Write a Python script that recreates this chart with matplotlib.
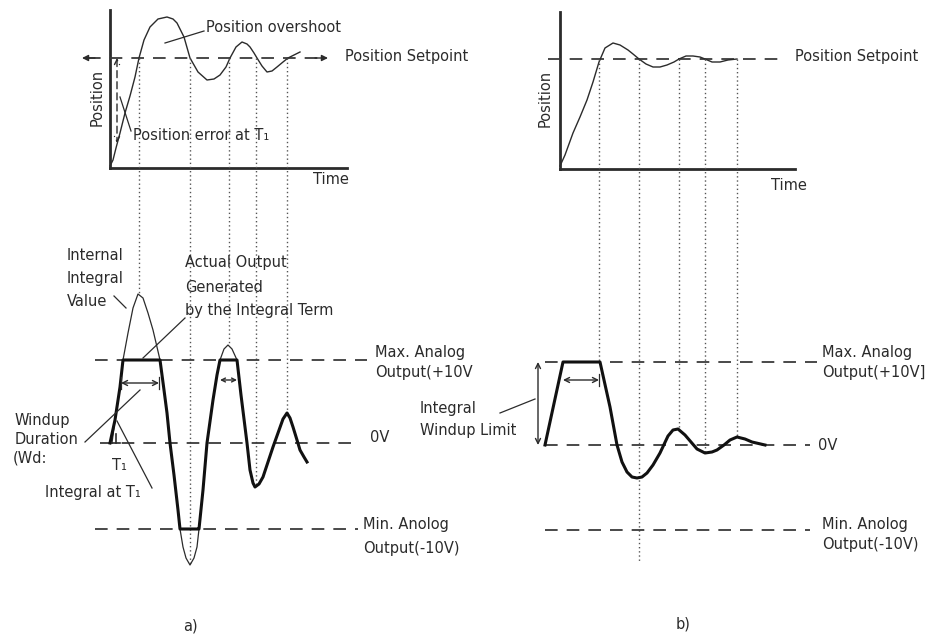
import numpy as np
import matplotlib.pyplot as plt

# all coordinates are pixel positions (y grows downwards)

# a) position response
pos_a_x = [110, 113, 116, 120, 125, 130, 135, 139, 144, 150, 158, 167, 173, 177, 184, 190, 198, 207,
           214, 220, 226, 230, 236, 242, 247, 250, 254, 257, 262, 267, 272, 277, 283, 288, 294, 300]
pos_a_y = [166, 160, 148, 133, 113, 96, 77, 58, 40, 27, 19, 17, 19, 23, 37, 58, 72, 80,
           79, 75, 67, 58, 47, 42, 44, 47, 53, 58, 66, 72, 71, 67, 62, 58, 55, 52]

# a) internal integral value
int_a_x = [112, 115, 120, 123, 128, 133, 138, 143, 148, 153, 157, 160, 164, 167, 170, 174, 178, 180,
           183, 186, 190, 194, 197, 199, 203, 207, 213, 217, 220, 224, 228, 232, 237, 241, 247, 250,
           253, 255, 259, 263, 268, 273, 278, 283, 287, 290, 293, 297, 300, 304, 307]
int_a_y = [443, 420, 387, 360, 333, 308, 294, 298, 313, 330, 347, 360, 390, 413, 443, 475, 510, 529,
           547, 558, 565, 558, 547, 529, 490, 443, 400, 375, 360, 349, 345, 349, 360, 395, 443, 470,
           483, 487, 484, 477, 462, 447, 433, 419, 413, 418, 427, 440, 450, 457, 462]

# b) position response
pos_b_x = [560, 565, 573, 580, 587, 593, 599, 605, 613, 620, 628, 633, 639, 646, 653, 660, 667,
           674, 679, 686, 693, 700, 705, 712, 720, 728, 737]
pos_b_y = [166, 155, 133, 117, 100, 82, 62, 48, 43, 45, 50, 54, 59, 64, 67, 67, 65,
           62, 59, 56, 56, 57, 59, 62, 62, 60, 59]

# b) integral output with windup limit
out_b_x = [545, 563, 600, 610, 617, 622, 627, 632, 637, 642, 647, 653, 660, 668, 673, 678, 685,
           691, 697, 705, 712, 717, 724, 730, 737, 745, 752, 765]
out_b_y = [445, 362, 362, 407, 445, 462, 472, 477, 478, 477, 473, 465, 453, 436, 430, 429, 435,
           442, 449, 453, 452, 450, 445, 440, 437, 439, 442, 445]

# levels
setpoint_a, setpoint_b = 58, 59
max_a, zero_a, min_a = 360, 443, 529
max_b, zero_b, min_b = 362, 445, 530

# dotted guide lines (x, lower end)
dot_a_x = [139, 190, 229, 256, 287]
dot_a_end = [294, 565, 345, 487, 413]
dot_b_x = [599, 639, 679, 705, 737]
dot_b_end = [362, 563, 429, 453, 437]

INK = "#2b2b2b"
DASH = dict(color="#3a3a3a", lw=1.3, dashes=(7, 5))
FS = 10.5

fig = plt.figure(figsize=(9.42, 6.35), dpi=100)
ax = fig.add_axes([0, 0, 1, 1])
ax.set_xlim(0, 942)
ax.set_ylim(635, 0)
ax.axis("off")


def txt(x, y, s, **kw):
    ax.text(x, y, s, fontsize=FS, color=INK, va="center", ha=kw.pop("ha", "left"), **kw)


def line(x0, y0, x1, y1, **kw):
    ax.plot([x0, x1], [y0, y1], color=kw.pop("color", INK), lw=kw.pop("lw", 0.9), **kw)


def arrow(x0, y0, x1, y1, style="<->", ls="-", scale=9):
    ax.annotate("", xy=(x1, y1), xytext=(x0, y0),
                arrowprops=dict(arrowstyle=style, color=INK, lw=1.0, linestyle=ls,
                                mutation_scale=scale, shrinkA=0, shrinkB=0))


# ---------------- panel a ----------------
line(110, 10, 110, 168, lw=2.0)
line(110, 168, 347, 168, lw=2.0)
txt(97, 97, "Position", rotation=90, ha="center")
txt(313, 179, "Time")
ax.plot([88, 322], [setpoint_a, setpoint_a], **DASH)
arrow(95, setpoint_a, 82, setpoint_a, style="-|>")
arrow(315, setpoint_a, 328, setpoint_a, style="-|>")
txt(345, 57, "Position Setpoint")
ax.plot(pos_a_x, pos_a_y, color=INK, lw=1.0)
arrow(117, 58, 117, 143, ls=(0, (5, 3)))
txt(133, 135, "Position error at T₁")
line(131, 131, 120, 97)
txt(206, 27, "Position overshoot")
line(204, 31, 165, 43)

for x, y_end in zip(dot_a_x, dot_a_end):
    ax.plot([x, x], [setpoint_a, y_end], color="#555555", lw=1.0, ls=(0, (1, 2)))

ax.plot([95, 367], [max_a, max_a], **DASH)
ax.plot([100, 358], [zero_a, zero_a], **DASH)
ax.plot([95, 358], [min_a, min_a], **DASH)

ax.plot(int_a_x, int_a_y, color=INK, lw=0.9)
out_a_y = np.clip(int_a_y, max_a, min_a)
ax.plot([110] + int_a_x[1:], [zero_a] + list(out_a_y[1:]), color="#111111", lw=2.2)

arrow(121, 383, 159, 383)
line(121, 377, 121, 389)
line(159, 377, 159, 389)
arrow(220, 380, 237, 380, scale=7)
line(116, 434, 116, 443, lw=1.2)
line(112, 443, 120, 443, lw=1.2)

txt(67, 255, "Internal")
txt(67, 278, "Integral")
txt(67, 302, "Value")
line(114, 296, 126, 308)
txt(185, 263, "Actual Output")
txt(185, 287, "Generated")
txt(185, 310, "by the Integral Term")
line(185, 318, 143, 358)
txt(15, 420, "Windup")
txt(15, 439, "Duration")
txt(13, 458, "(Wd:")
line(85, 442, 140, 390)
txt(112, 466, "T₁")
txt(45, 492, "Integral at T₁")
line(152, 488, 117, 421)

txt(375, 352, "Max. Analog")
txt(375, 373, "Output(+10V")
txt(370, 438, "0V")
txt(363, 525, "Min. Anolog")
txt(363, 548, "Output(-10V)")
txt(190, 626, "a)", ha="center")

# ---------------- panel b ----------------
line(560, 12, 560, 169, lw=2.0)
line(560, 169, 795, 169, lw=2.0)
txt(545, 98, "Position", rotation=90, ha="center")
txt(771, 185, "Time")
ax.plot([548, 778], [setpoint_b, setpoint_b], **DASH)
txt(795, 57, "Position Setpoint")
ax.plot(pos_b_x, pos_b_y, color=INK, lw=1.0)

for x, y_end in zip(dot_b_x, dot_b_end):
    ax.plot([x, x], [setpoint_b, y_end], color="#555555", lw=1.0, ls=(0, (1, 2)))

ax.plot([545, 817], [max_b, max_b], **DASH)
ax.plot([545, 810], [zero_b, zero_b], **DASH)
ax.plot([545, 810], [min_b, min_b], **DASH)
ax.plot(out_b_x, out_b_y, color="#111111", lw=2.2)

arrow(563, 380, 599, 380)
line(599, 374, 599, 386)
arrow(538, 362, 538, 445)
txt(420, 409, "Integral")
txt(420, 431, "Windup Limit")
line(500, 413, 535, 399)

txt(822, 352, "Max. Analog")
txt(822, 372, "Output(+10V]")
txt(818, 445, "0V")
txt(822, 525, "Min. Anolog")
txt(822, 545, "Output(-10V)")
txt(683, 624, "b)", ha="center")

fig.savefig("out.png", dpi=100, facecolor="white")
